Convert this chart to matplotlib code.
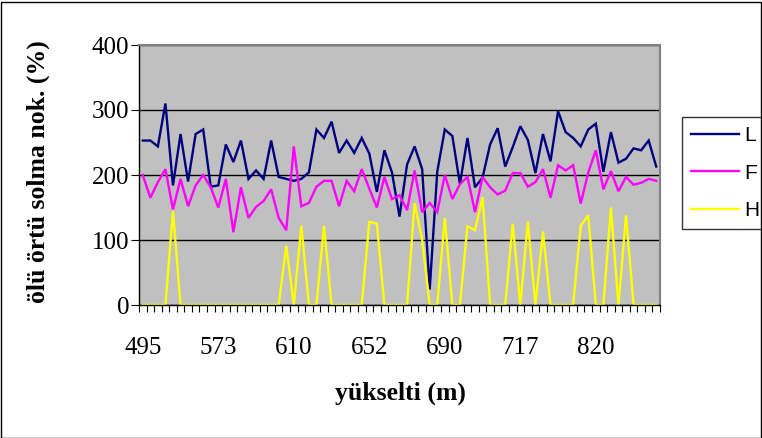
import numpy as np
import matplotlib
matplotlib.use("Agg")
import matplotlib.pyplot as plt
from matplotlib.patches import Rectangle

# --- DATA ---
L_vals = [253, 253, 244, 310, 184, 263, 190, 263, 270, 182,
          184, 247, 220, 253, 194, 207, 194, 253, 197, 194,
          191, 194, 204, 270, 257, 282, 234, 253, 234, 257,
          233, 174, 238, 204, 136, 216, 244, 209, 24, 205,
          270, 260, 186, 257, 181, 196, 247, 272, 213, 243,
          275, 254, 203, 263, 221, 298, 266, 257, 244, 270,
          279, 205, 266, 219, 225, 241, 238, 253, 213]
F_vals = [200, 165, 189, 209, 147, 194, 152, 184, 200, 181,
          150, 194, 112, 181, 134, 151, 160, 178, 134, 115,
          244, 152, 157, 182, 191, 191, 152, 191, 175, 209,
          179, 150, 197, 163, 169, 146, 207, 143, 157, 143,
          200, 163, 186, 197, 143, 197, 181, 170, 176, 203,
          203, 182, 189, 209, 165, 215, 207, 215, 156, 204,
          238, 178, 206, 175, 197, 185, 188, 194, 191]
H_vals = [0, 0, 0, 0, 145, 0, 0, 0, 0, 0,
          0, 0, 0, 0, 0, 0, 0, 0, 0, 91,
          0, 122, 0, 0, 122, 0, 0, 0, 0, 0,
          128, 125, 0, 0, 0, 0, 157, 100, 0, 0,
          134, 0, 0, 121, 115, 166, 0, 0, 0, 125,
          0, 128, 0, 113, 0, 0, 0, 0, 122, 138,
          0, 0, 150, 0, 138, 0, 0, 0, 0]
tick_labels = ['495', '573', '610', '652', '690', '717', '820']
label_every = 10
series_names = ['L', 'F', 'H']
series_colors = ['#000080', '#FF00FF', '#FFFF00']

serif = 'Liberation Serif'
sans = 'Liberation Sans'

fig = plt.figure(figsize=(7.62, 4.38), dpi=100)
ax = fig.add_axes([139 / 762, 1 - 305 / 438, 521 / 762, 260 / 438])
ax.set_facecolor('#C0C0C0')

n = len(L_vals)
x = np.arange(n)
for vals, name, col in zip([L_vals, F_vals, H_vals], series_names, series_colors):
    ax.plot(x, vals, color=col, lw=1.7, label=name, solid_joinstyle='miter')

ax.set_xlim(-0.5, n - 0.5)
ax.set_ylim(0, 400)
ax.set_yticks([0, 100, 200, 300, 400])
ax.grid(axis='y', color='black', lw=1)
ax.set_axisbelow(True)

# category boundary ticks, labels on every 10th category
ax.set_xticks(np.arange(n + 1) - 0.5)
ax.set_xticklabels([])
ax.set_xticks(np.arange(0, n, label_every)[:len(tick_labels)], minor=True)
ax.set_xticklabels(tick_labels, minor=True, fontfamily=serif, fontsize=18)
ax.tick_params(axis='x', which='major', length=5, direction='out', color='black')
ax.tick_params(axis='x', which='minor', length=0, pad=23)
ax.tick_params(axis='y', length=6, direction='out', pad=1, labelsize=18)
for lab in ax.get_yticklabels():
    lab.set_fontfamily(serif)

for s in ['left', 'bottom']:
    ax.spines[s].set_color('black')
    ax.spines[s].set_linewidth(1)
for s in ['top', 'right']:
    ax.spines[s].set_color('#808080')
    ax.spines[s].set_linewidth(1.5)

fig.text(38 / 762, 1 - 172 / 438, 'ölü örtü solma nok. (%)', rotation=90,
         ha='center', va='center', fontfamily=serif, fontweight='bold', fontsize=18.5)
fig.text(400 / 762, 1 - 393 / 438, 'yükselti (m)', ha='center', va='center',
         fontfamily=serif, fontweight='bold', fontsize=18.5)

leg = ax.legend(loc='upper left', bbox_to_anchor=(682 / 762, 1 - 117 / 438),
                bbox_transform=fig.transFigure, frameon=True, fancybox=False,
                prop={'family': sans, 'size': 15}, handlelength=2.3,
                handletextpad=0.22, labelspacing=0.88, borderpad=0.45,
                borderaxespad=0)
leg.get_frame().set_edgecolor('black')
leg.get_frame().set_linewidth(1)

# chart area border
fig.patches.append(Rectangle((0.5 / 762, 0.5 / 438), 760 / 762, 436 / 438,
                             transform=fig.transFigure, fill=False,
                             edgecolor='black', lw=1))

fig.savefig('out.png', dpi=100)
